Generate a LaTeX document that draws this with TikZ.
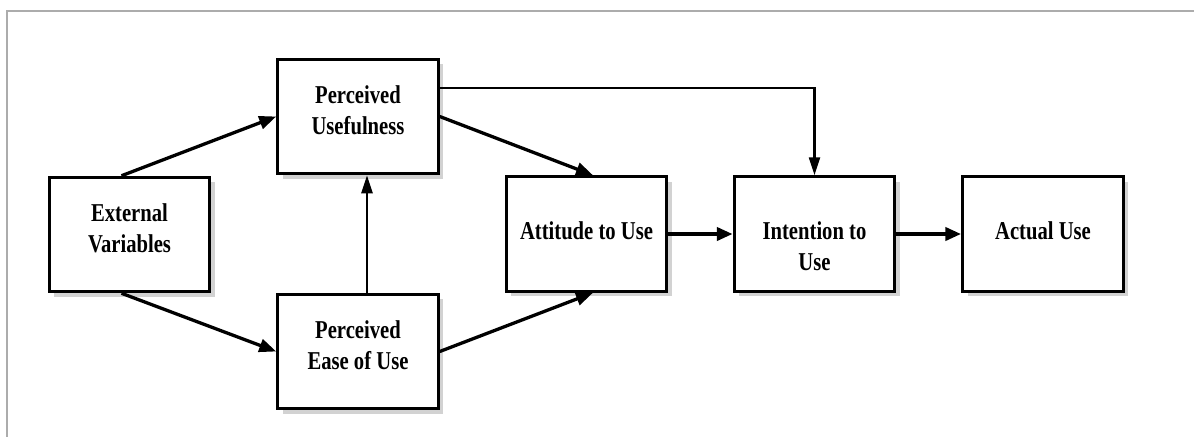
\documentclass[tikz,border=0pt]{standalone}
\usepackage{fontspec}
\setmainfont{Liberation Serif}[FakeStretch=0.86]
\usetikzlibrary{arrows.meta,shadows}
\newcommand{\tallt}[1]{\scalebox{1}[1.07]{#1}}
\begin{document}
\begin{tikzpicture}[x=1pt,y=-1pt,
  box/.style={draw=black, line width=3pt, fill=white, minimum width=160.5pt, minimum height=114.5pt, inner sep=0pt,
    drop shadow={shadow xshift=5pt, shadow yshift=-5pt, fill=gray!35, opacity=1}},
  lbl/.style={anchor=base, inner sep=0pt, font=\fontsize{24}{31}\selectfont\bfseries},
  arr/.style={line width=3.3pt, -{Triangle[length=17pt,width=13pt]}},
  harr/.style={line width=4pt, -{Triangle[length=16pt,width=13pt]}},
  thin arr/.style={line width=2.3pt, -{Triangle[length=18pt,width=11pt]}}]
\useasboundingbox (0,0) rectangle (1194,437);
% frame
\draw[gray!65, line width=1.5pt] (1194,11) -- (7,11) -- (7,437);
% boxes
\node[box] (EV) at (129.5,234.5) {};
\node[box] (PU) at (358,116.5) {};
\node[box] (PEU) at (358,351.5) {};
\node[box] (ATU) at (586.5,234) {};
\node[box] (ITU) at (814.5,234) {};
\node[box] (AU) at (1043,234) {};
% labels
\node[lbl] (t1) at (129.5,221) {\tallt{External}};
\node[lbl] (t2) at (129.5,252) {\tallt{Variables}};
\node[lbl] (t3) at (358,103) {\tallt{Perceived}};
\node[lbl] (t4) at (358,134) {\tallt{Usefulness}};
\node[lbl] (t5) at (358,338) {\tallt{Perceived}};
\node[lbl] (t6) at (358,369) {\tallt{Ease of Use}};
\node[lbl] (t7) at (586.5,239) {\tallt{Attitude to Use}};
\node[lbl] (t8) at (814.5,239) {\tallt{Intention to}};
\node[lbl] (t9) at (814.5,270) {\tallt{Use}};
\node[lbl] (t10) at (1043,239) {\tallt{Actual Use}};
% connectors
\draw[arr] ([xshift=-8pt]EV.north) -- (PU.west);
\draw[arr] ([xshift=-8pt]EV.south) -- (PEU.west);
\draw[thin arr] ([xshift=9pt]PEU.north) -- ([xshift=9pt]PU.south);
\draw[arr] (PU.east) -- ([xshift=6.5pt]ATU.north);
\draw[arr] (PEU.east) -- ([xshift=6.5pt]ATU.south);
\draw[thin arr] ([yshift=28.5pt]PU.east) -| (ITU.north);
\draw[harr] (ATU.east) -- (ITU.west);
\draw[harr] (ITU.east) -- (AU.west);
\end{tikzpicture}
\end{document}
